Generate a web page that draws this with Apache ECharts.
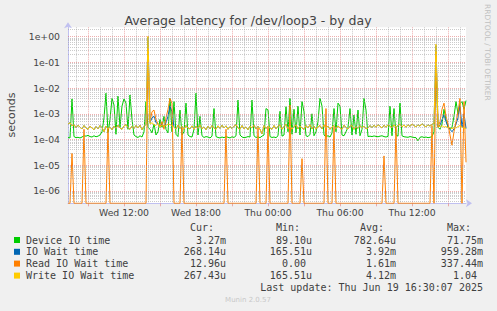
<!DOCTYPE html>
<html><head><meta charset="utf-8">
<script src="https://cdn.jsdelivr.net/npm/echarts@6/dist/echarts.min.js"></script>
<style>html,body{margin:0;padding:0;background:#f0f0f0;}#c{width:497px;height:311px;}</style>
</head><body><div id="c"></div>
<script>
// ---- data ----
const slotMinutes = 10;            // one sample every 10 minutes
const startMinute = 7 * 60 + 20;   // Wed 07:20
const dayNames = ['Wed', 'Thu'];
const tickLabels = ['Wed 12:00', 'Wed 18:00', 'Thu 00:00', 'Thu 06:00', 'Thu 12:00'];
const seriesNames = ['Device IO time', 'IO Wait time', 'Read IO Wait time', 'Write IO Wait time'];
// values in microseconds
const deviceIO = [
120,115,3800,130,118,122,115,125,140,135,
145,130,125,140,128,135,150,200,700,6300,
180,600,4000,2200,160,4900,300,2000,3800,2600,
250,5400,600,150,130,120,140,125,200,3000,
300,250,180,400,150,200,600,300,800,250,
180,4000,200,3000,160,130,1400,150,200,2600,
150,130,125,250,6300,150,800,140,120,130,
125,115,135,1600,130,120,115,125,118,130,
122,115,128,120,140,3400,150,125,118,122,
130,125,3400,140,120,128,118,135,150,1600,
1400,130,120,125,118,140,1250,135,150,1900,
200,4000,160,1500,180,2000,150,3000,1200,140,
130,160,1000,140,200,500,4000,2000,150,130,
140,125,180,1600,200,2600,2000,150,140,200,
300,1600,150,900,160,1400,140,250,4000,1400,
130,135,130,138,132,128,135,140,130,125,
132,2000,140,1600,150,135,2600,140,128,125,
122,130,125,120,118,89,122,128,120,125,
118,122,130,200,71750,300,250,400,1500,600,
300,250,300,800,3000,1000,2500,3000,1500,3270];
const ioWait = [
400,450,340,380,290,360,300,260,350,280,
250,330,280,240,320,260,350,290,200,330,
260,310,240,330,270,360,280,250,340,380,
290,250,330,270,350,280,360,240,320,390,
959280,450,700,800,450,410,300,420,300,450,
800,2000,1200,300,260,360,270,330,250,350,
280,260,340,250,330,270,370,260,310,240,
330,260,350,280,250,340,270,360,280,340,
250,320,270,330,380,280,250,350,260,310,
240,330,280,360,260,330,250,166,350,270,
330,280,250,350,260,330,370,250,320,400,
260,350,250,320,370,260,340,280,250,350,
280,380,260,330,250,310,350,260,370,280,
330,250,310,350,260,340,280,250,360,290,
260,330,350,250,320,270,350,280,330,260,
280,350,290,360,300,380,330,280,360,300,
380,330,290,370,300,350,400,310,370,300,
380,320,400,350,310,380,330,410,350,310,
380,330,390,420,450000,350,350,600,900,500,
320,250,200,260,400,700,2000,300,1000,268];
const readWait = [
0,0,29,0,0,0,0,0,250,0,
0,0,0,0,0,0,0,0,0,0,
280,0,0,0,0,0,0,0,0,0,
0,0,0,0,0,0,0,0,0,0,
337440,500,1200,1400,600,400,300,500,250,700,
1500,4000,2500,0,0,0,0,300,0,0,
0,0,0,0,0,0,0,0,0,0,
0,0,0,0,0,0,0,0,0,250,
0,0,0,0,0,0,0,0,0,0,
0,0,0,0,0,280,0,0,0,0,
300,0,0,0,0,0,0,0,0,0,
0,2200,0,0,0,0,0,18,0,0,
0,0,0,0,0,0,0,0,0,1600,
0,0,0,300,0,0,0,0,0,0,
0,0,0,0,0,0,0,0,0,0,
0,0,0,0,0,0,0,0,23,0,
0,0,0,0,300,0,0,0,0,0,
0,0,0,0,0,0,0,0,0,0,
0,0,350,0,250000,300,500,1500,2600,800,
400,150,60,200,500,1200,4000,0,3000,13];
const writeWait = [
400,450,340,380,290,360,300,260,350,280,
250,330,280,240,320,260,350,290,200,330,
260,310,240,330,270,360,280,250,340,380,
290,250,330,270,350,280,360,240,320,390,
1040000,400,450,380,350,420,300,380,320,350,
400,380,350,300,260,360,270,330,250,350,
280,260,340,250,330,270,370,260,310,240,
330,260,350,280,250,340,270,360,280,340,
250,320,270,330,380,280,250,350,260,310,
240,330,280,360,260,330,250,166,350,270,
330,280,250,350,260,330,370,250,320,400,
260,350,250,320,370,260,340,280,250,350,
280,380,260,330,250,310,350,260,370,280,
330,250,310,350,260,340,280,250,360,290,
260,330,350,250,320,270,350,280,330,260,
280,350,290,360,300,380,330,280,360,300,
380,330,290,370,300,350,400,310,370,300,
380,320,400,350,310,380,330,410,350,310,
380,330,390,420,520000,400,300,350,300,320,
280,300,260,300,280,320,350,300,280,267];
const curVals = ['3.27m', '268.14u', '12.96u', '267.43u'];
const minVals = ['89.10u', '165.51u', '0.00', '165.51u'];
const avgVals = ['782.64u', '3.92m', '1.61m', '4.12m'];
const maxVals = ['71.75m', '959.28m', '337.44m', '1.04'];
const titleText = 'Average latency for /dev/loop3 - by day';
const lastUpdate = 'Last update: Thu Jun 19 16:30:07 2025';

// ---- styling ----
const colors = ['#00cc00', '#0066b3', '#ff8000', '#ffcc00'];
const Y_MIN = 3.3e-7, Y_MAX = 2.32;
const majorCol = 'rgba(225,110,110,0.55)';
const minorCol = 'rgba(160,160,160,0.55)';

const categories = deviceIO.map((_, i) => {
  const m = startMinute + i * slotMinutes;
  const d = Math.floor(m / 1440), mm = m % 1440;
  return dayNames[d] + ' ' + String(Math.floor(mm / 60)).padStart(2, '0') + ':' + String(mm % 60).padStart(2, '0');
});
const minuteOf = i => (startMinute + i * slotMinutes) % 1440;
const isHour = i => minuteOf(i) % 60 === 0;
const is3h = i => minuteOf(i) % 180 === 0;
const toSeconds = v => (v <= 0 ? Y_MIN : v * 1e-6);

const gridLines = [];
for (let d = -7; d <= 0; d++) {
  for (let k = 1; k <= 9; k++) {
    const v = Number((k * Math.pow(10, d)).toPrecision(3));
    if (v > Y_MIN && v < Y_MAX) gridLines.push({ yAxis: v, lineStyle: { color: k === 1 ? majorCol : minorCol, type: [1, 1], width: 1 } });
  }
}

const series = [{
  type: 'line', data: categories.map(() => null), silent: true, z: 1,
  markLine: { silent: true, precision: 20, symbol: ['none', 'none'], label: { show: false }, animation: false, data: gridLines }
}].concat([deviceIO, ioWait, readWait, writeWait].map((arr, k) => ({
  name: seriesNames[k], type: 'line', data: arr.map(toSeconds), symbol: 'none', showSymbol: false,
  lineStyle: { color: colors[k], width: 1 }, itemStyle: { color: colors[k] }, z: 3, animation: false
})));

const txt = '#404040';
const mono = '10px "DejaVu Sans Mono"';
const graphics = [];
function addText(x, y, text, align, font, fill, rotation) {
  graphics.push({ type: 'text', x: x, y: y, rotation: rotation || 0, silent: true,
    style: { text: text, font: font, fill: fill, textAlign: align, align: align, textVerticalAlign: 'middle', verticalAlign: 'middle' } });
}
addText(248, 20, titleText, 'center', '12.5px "DejaVu Sans"', '#444');
addText(11, 115, 'seconds', 'center', '11px "DejaVu Sans"', '#444', Math.PI / 2);
addText(487.5, 4, 'RRDTOOL / TOBI OETIKER', 'left', '7.5px "DejaVu Sans"', '#c0c0c0', -Math.PI / 2);
const colRight = [226, 312, 396, 483];
const charW = 6.02;
['Cur:', 'Min:', 'Avg:', 'Max:'].forEach((h, c) => addText(colRight[c] - 6 * charW, 227.5, h, 'left', mono, txt));
const rowY = [240, 251.8, 263.6, 275.6];
seriesNames.forEach((n, r) => {
  graphics.push({ type: 'rect', silent: true, shape: { x: 14, y: rowY[r] - 3, width: 6, height: 6 }, style: { fill: colors[r] } });
  addText(26, rowY[r], n, 'left', mono, txt);
  [curVals, minVals, avgVals, maxVals].forEach((arr, c) => {
    const s = arr[r];
    const unitless = !/[a-zA-Z]$/.test(s);
    addText(colRight[c] - (unitless ? charW : 0), rowY[r], s, 'right', mono, txt);
  });
});
addText(483, 287.7, lastUpdate, 'right', mono, txt);
addText(248, 300, 'Munin 2.0.57', 'center', '7px "DejaVu Sans"', '#c8c8c8');

const chart = echarts.init(document.getElementById('c'), null, { renderer: 'svg' });
chart.setOption({
  backgroundColor: '#f0f0f0',
  animation: false,
  grid: { left: 68, right: 31, top: 27.3, bottom: 107.7, show: true, backgroundColor: '#ffffff', borderWidth: 0 },
  xAxis: [{
    type: 'category', data: categories, boundaryGap: false, position: 'bottom',
    axisLine: { show: true, lineStyle: { color: '#c0c0f0', width: 1 }, symbol: ['none', 'arrow'], symbolSize: [6, 6], symbolOffset: [0, 6] },
    axisTick: { show: true, interval: i => is3h(i), length: 3, lineStyle: { color: majorCol } },
    axisLabel: { interval: (i, v) => tickLabels.includes(v), margin: 5, fontFamily: 'DejaVu Sans', fontSize: 9.3, color: '#444' },
    splitLine: { show: true, interval: i => isHour(i) && !is3h(i), lineStyle: { color: minorCol, type: [1, 1], width: 1 } }
  }, {
    type: 'category', data: categories, boundaryGap: false, position: 'top',
    axisLine: { show: false }, axisTick: { show: false }, axisLabel: { show: false },
    splitLine: { show: true, interval: i => is3h(i), lineStyle: { color: majorCol, type: [1, 1], width: 1 } }
  }],
  yAxis: {
    type: 'log', logBase: 10, min: Y_MIN, max: Y_MAX,
    axisLine: { show: true, lineStyle: { color: '#c0c0f0', width: 1 }, symbol: ['none', 'arrow'], symbolSize: [6, 6], symbolOffset: [0, 5] },
    axisTick: { show: false },
    splitLine: { show: false }, minorSplitLine: { show: false },
    axisLabel: {
      margin: 8, fontFamily: 'DejaVu Sans', fontSize: 9.3, color: '#444',
      formatter: v => {
        const e = Math.log10(v), n = Math.round(e);
        if (Math.abs(e - n) > 1e-6) return '';
        return '1e' + (n < 0 ? '-' : '+') + String(Math.abs(n)).padStart(2, '0');
      }
    }
  },
  graphic: { elements: graphics },
  series: series
});
</script></body></html>
